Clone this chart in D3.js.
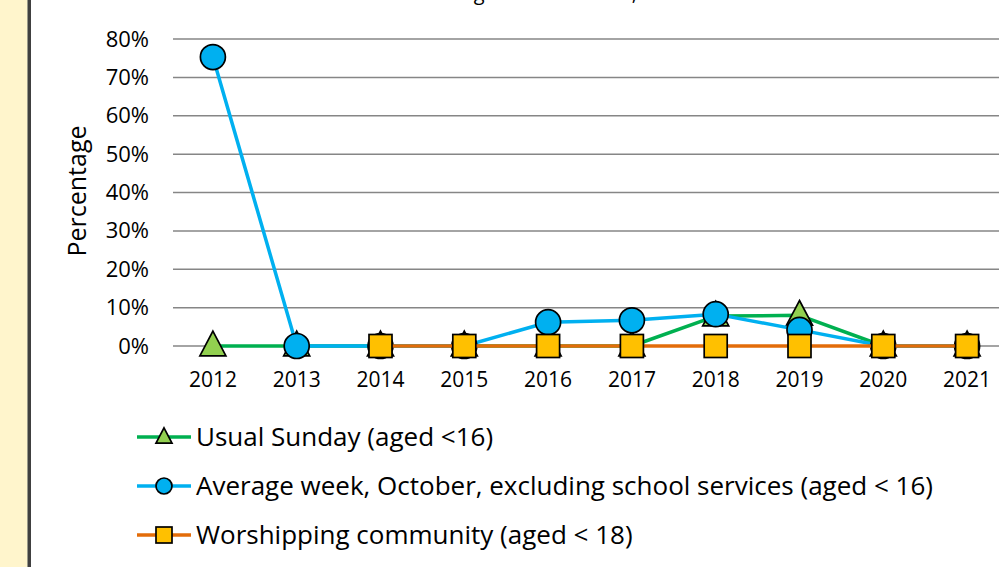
<!DOCTYPE html>
<html>
<head>
<meta charset="utf-8">
<script src="https://cdn.jsdelivr.net/npm/d3@7"></script>
<style>
  html, body { margin: 0; padding: 0; background: #fff; }
  svg { display: block; font-family: "Open Sans", Lato, "DejaVu Sans", sans-serif; }
</style>
</head>
<body>
<svg id="chart" width="999" height="567"></svg>
<script>
// Years on the category axis
const years = ["2012", "2013", "2014", "2015", "2016", "2017", "2018", "2019", "2020", "2021"];
// Percentages (0-1); null where a series has no value
const usualSunday = [0, 0, 0, 0, 0, 0, 0.078, 0.08, 0, 0];
const averageWeek = [0.753, 0, 0, 0, 0.062, 0.067, 0.083, 0.042, 0, 0];
const worshipping = [null, null, 0, 0, 0, 0, 0, 0, 0, 0];
const yTicks = [0, 0.1, 0.2, 0.3, 0.4, 0.5, 0.6, 0.7, 0.8];
const seriesNames = [
  "Usual Sunday (aged <16)",
  "Average week, October, excluding school services (aged < 16)",
  "Worshipping community (aged < 18)"
];
const titleText = "Children as a Percentage of Attendance, 2012 to 2021";

const FONT = "'Open Sans', Lato, sans-serif";
const svg = d3.select("#chart");
const W = 999, H = 567;

// side panel
svg.append("rect").attr("x", 0).attr("y", 0).attr("width", 27).attr("height", H).attr("fill", "#FFF5CC");
svg.append("rect").attr("x", 27).attr("y", 0).attr("width", 1).attr("height", H).attr("fill", "#9a9a8a");
svg.append("rect").attr("x", 28).attr("y", 0).attr("width", 3).attr("height", H).attr("fill", "#404040");

// title (mostly above the visible area)
svg.append("text").attr("x", 514).attr("y", 0)
  .attr("text-anchor", "middle").attr("font-size", 20).attr("fill", "#000")
  .text(titleText);

const x = d3.scaleBand().domain(years).range([171, 1009]);
const y = d3.scaleLinear().domain([0, 0.8]).range([346, 39]);
const cx = d => x(d) + x.bandwidth() / 2;

// gridlines
svg.append("g").selectAll("line").data(yTicks).join("line")
  .attr("x1", 173).attr("x2", W)
  .attr("y1", d => y(d)).attr("y2", d => y(d))
  .attr("stroke", "#868686").attr("stroke-width", 1.5);

// y axis labels
const yAxis = d3.axisLeft(y).tickValues(yTicks).tickFormat(d3.format(".0%")).tickSize(0).tickPadding(0);
const gy = svg.append("g").attr("transform", "translate(149,0)").call(yAxis);
gy.select(".domain").remove();
gy.selectAll("text").attr("font-size", 22).attr("fill", "#000").attr("font-family", FONT);

// x axis labels
const xAxis = d3.axisBottom(x).tickSize(0).tickPadding(0);
const gx = svg.append("g").attr("transform", "translate(0,372)").call(xAxis);
gx.select(".domain").remove();
gx.selectAll("text").attr("font-size", 21).attr("fill", "#000").attr("font-family", FONT);

// y axis title
svg.append("text").attr("transform", "translate(86,191) rotate(-90)")
  .attr("text-anchor", "middle").attr("font-size", 25).attr("fill", "#000")
  .text("Percentage");

const series = [
  { name: seriesNames[0], values: usualSunday, line: "#00B050", fill: "#92D050", shape: "triangle" },
  { name: seriesNames[1], values: averageWeek, line: "#00B0F0", fill: "#00B0F0", shape: "circle" },
  { name: seriesNames[2], values: worshipping, line: "#E36C09", fill: "#FFC000", shape: "square" }
];

function drawMarker(g, shape, px, py, size, fill) {
  if (shape === "circle") {
    g.append("circle").attr("cx", px).attr("cy", py).attr("r", size / 2)
      .attr("fill", fill).attr("stroke", "#000").attr("stroke-width", 1.7);
  } else if (shape === "square") {
    g.append("rect").attr("x", px - size / 2).attr("y", py - size / 2)
      .attr("width", size).attr("height", size)
      .attr("fill", fill).attr("stroke", "#000").attr("stroke-width", 1.7);
  } else {
    const h = size * 0.95, w = size;
    g.append("path")
      .attr("d", `M${px},${py - h * 0.6}L${px + w / 2},${py + h * 0.4}L${px - w / 2},${py + h * 0.4}Z`)
      .attr("fill", fill).attr("stroke", "#000").attr("stroke-width", 1.7);
  }
}

const line = d3.line().defined(d => d.v !== null).x(d => cx(d.year)).y(d => y(d.v));

series.forEach(s => {
  const pts = years.map((yr, i) => ({ year: yr, v: s.values[i] }));
  const g = svg.append("g");
  g.append("path").datum(pts).attr("d", line)
    .attr("fill", "none").attr("stroke", s.line).attr("stroke-width", 3.5).attr("stroke-linejoin", "round");
  pts.filter(d => d.v !== null).forEach(d => {
    const sz = s.shape === "circle" ? 25 : (s.shape === "square" ? 23 : 26);
    drawMarker(g, s.shape, cx(d.year), y(d.v), sz, s.fill);
  });
});

// legend
const legendY = [437, 486, 535];
series.forEach((s, i) => {
  const g = svg.append("g");
  const ly = legendY[i];
  g.append("line").attr("x1", 137).attr("x2", 191).attr("y1", ly).attr("y2", ly)
    .attr("stroke", s.line).attr("stroke-width", 3.5);
  drawMarker(g, s.shape, 164, ly, 16, s.fill);
  g.append("text").attr("x", 196).attr("y", ly).attr("dy", "0.35em")
    .attr("font-size", 26).attr("fill", "#000").text(s.name);
});
</script>
</body>
</html>
